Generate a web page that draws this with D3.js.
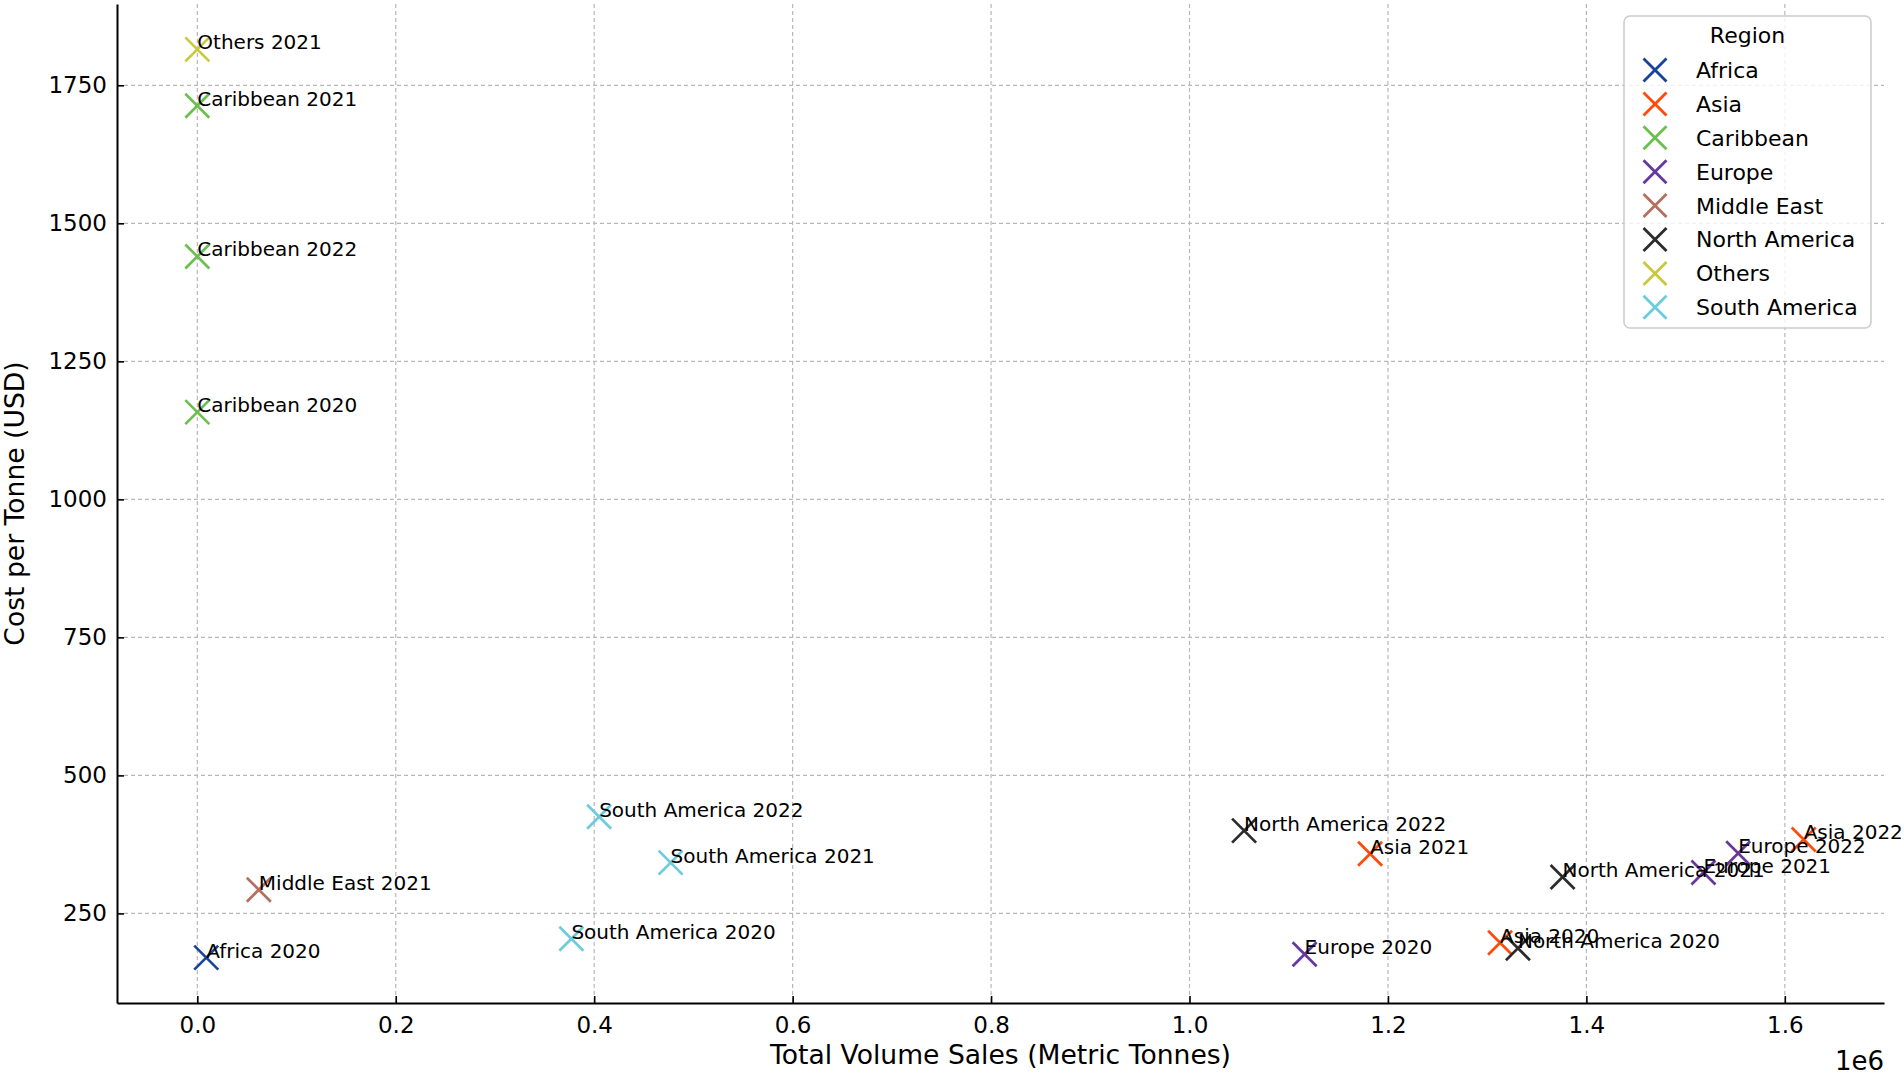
<!DOCTYPE html>
<html>
<head>
<meta charset="utf-8">
<script src="https://cdn.jsdelivr.net/npm/d3@7"></script>
<style>
  body { margin: 0; background: #fff; }
  svg { display: block; font-family: "DejaVu Sans", sans-serif; }
  .grid line { stroke: #b8b8b8; stroke-width: 1.2; stroke-dasharray: 4,3; }
  .axis path, .axis line { stroke: #000; }
  .axis path { stroke-width: 2; }
  .axis line { stroke-width: 1.6; }
  .axis text { font-size: 23px; fill: #000; font-family: "DejaVu Sans", sans-serif; }
</style>
</head>
<body>
<script>
// region list in legend order + colours
var regions = ["Africa", "Asia", "Caribbean", "Europe", "Middle East", "North America", "Others", "South America"];
var regionColors = ["#17439b", "#ff4a0a", "#6bbf4e", "#66389f", "#b46f5f", "#2b2b2b", "#c9c940", "#6cccdd"];

// one entry per point (region, year), volume in tonnes, cost in USD
var pointRegion = ["Africa", "Asia", "Asia", "Asia", "Caribbean", "Caribbean", "Caribbean",
  "Europe", "Europe", "Europe", "Middle East", "North America", "North America", "North America",
  "Others", "South America", "South America", "South America"];
var pointYear = [2020, 2020, 2021, 2022, 2020, 2021, 2022,
  2020, 2021, 2022, 2021, 2020, 2021, 2022,
  2021, 2020, 2021, 2022];
var volumeSales = [9000, 1313000, 1182000, 1619000, 0, 0, 0,
  1116000, 1518000, 1553000, 62000, 1331000, 1376000, 1055000,
  0, 377000, 477000, 405000];
var costPerTonne = [170, 197, 358, 384, 1158, 1713, 1440,
  176, 324, 359, 293, 187, 316, 400,
  1815, 204, 342, 425];

var xTicks = [0, 200000, 400000, 600000, 800000, 1000000, 1200000, 1400000, 1600000];
var yTicks = [250, 500, 750, 1000, 1250, 1500, 1750];

var W = 1904, H = 1075;
var margin = {top: 4, right: 20, bottom: 72, left: 117};
var width = W - margin.left - margin.right,
    height = H - margin.top - margin.bottom;

var data = pointRegion.map(function(r, i) {
  return {region: r, year: pointYear[i], vol: volumeSales[i], cost: costPerTonne[i]};
});

var svg = d3.select("body").append("svg")
    .attr("width", W)
    .attr("height", H);

var g = svg.append("g")
    .attr("transform", "translate(" + margin.left + "," + margin.top + ")");

// matplotlib style 5% margins
var xExt = d3.extent(volumeSales), yExt = d3.extent(costPerTonne);
var xPad = (xExt[1] - xExt[0]) * 0.05, yPad = (yExt[1] - yExt[0]) * 0.05;

var x = d3.scaleLinear()
    .domain([xExt[0] - xPad, xExt[1] + xPad])
    .range([0, width]);
var y = d3.scaleLinear()
    .domain([yExt[0] - yPad, yExt[1] + yPad])
    .range([height, 0]);

var color = d3.scaleOrdinal().domain(regions).range(regionColors);

// grid
g.append("g").attr("class", "grid")
  .selectAll("line").data(xTicks).enter().append("line")
    .attr("x1", function(d) { return x(d); })
    .attr("x2", function(d) { return x(d); })
    .attr("y1", 0).attr("y2", height);
g.append("g").attr("class", "grid")
  .selectAll("line").data(yTicks).enter().append("line")
    .attr("y1", function(d) { return y(d); })
    .attr("y2", function(d) { return y(d); })
    .attr("x1", 0).attr("x2", width);

// axes, ticks pointing inwards
g.append("g").attr("class", "axis")
    .attr("transform", "translate(0," + height + ")")
    .call(d3.axisBottom(x).tickValues(xTicks).tickSize(-7).tickSizeOuter(0).tickPadding(14)
      .tickFormat(function(d) { return d3.format(".1f")(d / 1e6); }));
g.append("g").attr("class", "axis")
    .call(d3.axisLeft(y).tickValues(yTicks).tickSize(-7).tickSizeOuter(0).tickPadding(10)
      .tickFormat(d3.format("d")));

// x markers
var s = 12;
var pts = g.append("g").selectAll("g")
  .data(data).enter().append("g")
    .attr("transform", function(d) { return "translate(" + x(d.vol) + "," + y(d.cost) + ")"; })
    .attr("stroke", function(d) { return color(d.region); })
    .attr("stroke-width", 2.7);
pts.append("line").attr("x1", -s).attr("y1", -s).attr("x2", s).attr("y2", s);
pts.append("line").attr("x1", -s).attr("y1", s).attr("x2", s).attr("y2", -s);

// annotations
g.append("g").selectAll("text")
  .data(data).enter().append("text")
    .attr("x", function(d) { return x(d.vol); })
    .attr("y", function(d) { return y(d.cost); })
    .attr("font-size", 20)
    .attr("fill", "#000")
    .text(function(d) { return d.region + " " + d.year; });

// axis labels
svg.append("text")
    .attr("x", margin.left + width / 2)
    .attr("y", 1064)
    .attr("text-anchor", "middle")
    .attr("font-size", 26.6)
    .text("Total Volume Sales (Metric Tonnes)");
svg.append("text")
    .attr("transform", "translate(24," + (margin.top + height / 2) + ") rotate(-90)")
    .attr("text-anchor", "middle")
    .attr("font-size", 26.6)
    .text("Cost per Tonne (USD)");
svg.append("text")
    .attr("x", margin.left + width)
    .attr("y", 1070)
    .attr("text-anchor", "end")
    .attr("font-size", 26)
    .text("1e6");

// legend
var lg = svg.append("g").attr("transform", "translate(1624,16)");
lg.append("rect")
    .attr("width", 247).attr("height", 312)
    .attr("rx", 6)
    .attr("fill", "#fff").attr("fill-opacity", 0.8)
    .attr("stroke", "#cccccc").attr("stroke-width", 1.5);
lg.append("text")
    .attr("x", 123.5).attr("y", 27)
    .attr("text-anchor", "middle")
    .attr("font-size", 22)
    .text("Region");
var items = lg.selectAll(".item").data(regions).enter().append("g")
    .attr("class", "item")
    .attr("transform", function(d, i) { return "translate(31," + (54 + i * 33.9) + ")"; });
items.append("line").attr("x1", -11.5).attr("y1", -11.5).attr("x2", 11.5).attr("y2", 11.5)
    .attr("stroke", function(d) { return color(d); }).attr("stroke-width", 2.8);
items.append("line").attr("x1", -11.5).attr("y1", 11.5).attr("x2", 11.5).attr("y2", -11.5)
    .attr("stroke", function(d) { return color(d); }).attr("stroke-width", 2.8);
items.append("text")
    .attr("x", 41).attr("dy", "0.36em")
    .attr("font-size", 22)
    .text(function(d) { return d; });
</script>
</body>
</html>
